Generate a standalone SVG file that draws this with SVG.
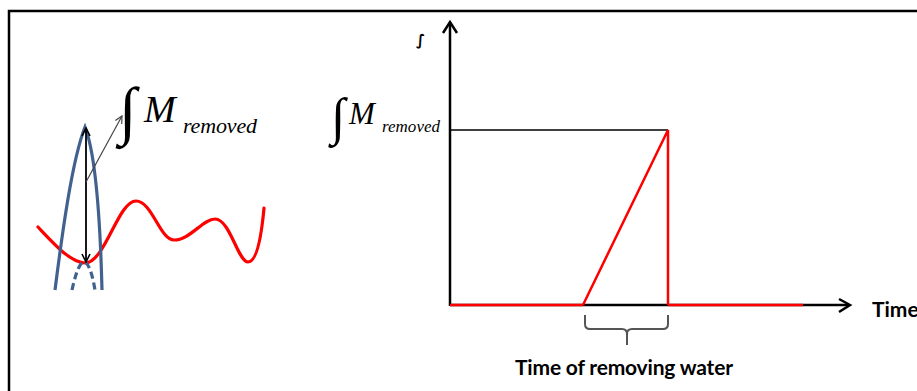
<svg xmlns="http://www.w3.org/2000/svg" width="917" height="391" viewBox="0 0 917 391">
<defs>
<style>
.frame{fill:none;stroke:#000;stroke-width:2.5}
.ax{fill:none;stroke:#000;stroke-width:2.5}
.red{fill:none;stroke:#ff0000;stroke-width:2.5}
.wave{fill:none;stroke:#ff0000;stroke-width:3.2;stroke-linecap:round}
.blue{fill:none;stroke:#41618f;stroke-width:3.2}
.bluedash{fill:none;stroke:#41618f;stroke-width:3.2;stroke-dasharray:7 4}
.thin{fill:none;stroke:#000;stroke-width:1.5}
.dbl{fill:none;stroke:#000;stroke-width:1.8}
.gray{fill:none;stroke:#444;stroke-width:1.2}
.brace{fill:none;stroke:#555;stroke-width:2}
.math{font-family:"Liberation Serif","Times New Roman",serif;font-style:italic;fill:#000}
.int{font-family:"Liberation Serif","Times New Roman",serif;fill:#000}
.lbl{font-family:Lato,"Open Sans",sans-serif;font-weight:bold;fill:#000}
.sym{font-family:"DejaVu Sans",sans-serif;font-weight:bold;fill:#000}
</style>
<marker id="open" viewBox="0 0 10 10" refX="9" refY="5" markerWidth="10" markerHeight="10" orient="auto-start-reverse" markerUnits="userSpaceOnUse">
<path d="M1,1 L9,5 L1,9" fill="none" stroke="#000" stroke-width="1.6"/>
</marker>
<marker id="openg" viewBox="0 0 10 10" refX="9" refY="5" markerWidth="9" markerHeight="9" orient="auto" markerUnits="userSpaceOnUse">
<path d="M1,1 L9,5 L1,9" fill="none" stroke="#444" stroke-width="1.3"/>
</marker>
</defs>
<rect width="917" height="391" fill="#fff"/>
<path class="frame" d="M9,391 L9,11 L917,11"/>

<g id="left-diagram">
<path id="wave" class="wave" d="M38,227 C55,245 70,262 85,263 C105,263 118,201 136,201 C152,201 160,240 174,240 C190,240 203,219 215,219 C230,219 238,262 248,262 C258,262 262,230 264,208"/>
<path id="peak" class="blue" d="M55,290 C62,235 72,160 85,127 C94,150 100,210 102,290"/>
<path id="peak-dashed" class="bluedash" d="M72,290 C76,272 80,262 84,262 C88,262 92,272 95,290"/>
</g>

<g id="connectors">
<line class="dbl" x1="86" y1="128" x2="86" y2="262" marker-start="url(#open)" marker-end="url(#open)"/>
<line class="gray" x1="86" y1="182" x2="122" y2="116" marker-end="url(#openg)"/>
<line class="ax" x1="450" y1="306" x2="450" y2="22"/>
<path class="ax" d="M443,33 L450,22 L457,33"/>
<line class="ax" x1="450" y1="305" x2="849" y2="305"/>
<path class="ax" d="M839,299 L850,305 L839,312"/>
</g>

<g id="left-label">
<text class="int" x="119" y="132" font-size="64">∫</text>
<text class="math" x="144" y="122" font-size="38">M</text>
<text class="math" x="183" y="133" font-size="22" textLength="74">removed</text>
</g>

<g id="chart">
<line class="thin" x1="450" y1="130" x2="668" y2="130"/>
<path class="red" d="M450,305 L583,305 M668,305 L803,305"/>
<path class="red" d="M583,305 L668,130 L668,305"/>
<path id="brace" class="brace" d="M585,315 L585,324 Q585,329 590,329 L622,329 Q627,329 627,334 L627,345 M627,334 Q627,329 632,329 L663,329 Q668,329 668,324 L668,315"/>
</g>

<g id="chart-labels">
<text class="sym" x="416" y="45" font-size="15">∫</text>
<text class="int" x="331" y="134" font-size="52">∫</text>
<text class="math" x="349" y="124" font-size="31">M</text>
<text class="math" x="382" y="132" font-size="17" textLength="58">removed</text>
<text class="lbl" x="872" y="317" font-size="21">Time</text>
<text class="lbl" x="515" y="375" font-size="21" textLength="218">Time of removing water</text>
</g>
</svg>
